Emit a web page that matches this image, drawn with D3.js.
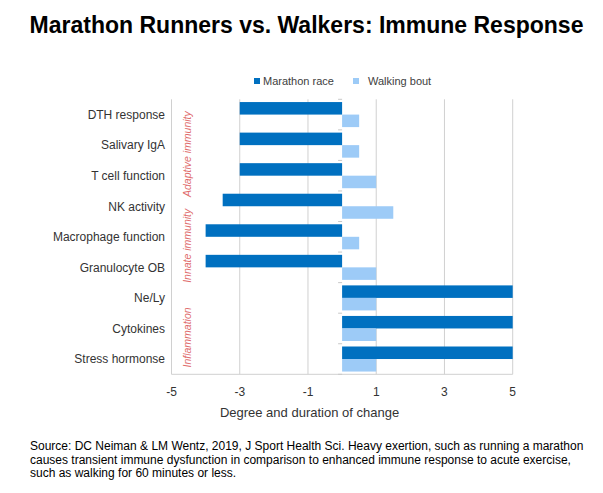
<!DOCTYPE html>
<html>
<head>
  <meta charset="utf-8">
  <title>Marathon Runners vs. Walkers</title>
  <script src="https://d3js.org/d3.v7.min.js"></script>
  <style>
    html, body { margin: 0; background: #fff; overflow: hidden; }
    text { font-family: "Liberation Sans", Arial, sans-serif; }
  </style>
</head>
<body>
  <div id="chart"></div>
  <script>
    // data
    const categories = ['DTH response', 'Salivary IgA', 'T cell function', 'NK activity',
      'Macrophage function', 'Granulocyte OB', 'Ne/Ly', 'Cytokines', 'Stress hormonse'];
    const series = ['Marathon race', 'Walking bout'];
    const marathon = [-3, -3, -3, -3.5, -4, -4, 5, 5, 5];
    const walking = [0.5, 0.5, 1, 1.5, 0.5, 1, 1, 1, 1];
    const xTicks = [-5, -3, -1, 1, 3, 5];
    const groups = [
      { label: 'Adaptive immunity', from: 0, to: 2 },
      { label: 'Innate immunity', from: 3, to: 5 },
      { label: 'Inflammation', from: 6, to: 8 }
    ];
    const footer = [
      'Source: DC Neiman & LM Wentz, 2019, J Sport Health Sci. Heavy exertion, such as running a marathon',
      'causes transient immune dysfunction in comparison to enhanced immune response to acute exercise,',
      'such as walking for 60 minutes or less.'
    ];

    const W = 603, H = 493;
    const colors = { 'Marathon race': '#0070c0', 'Walking bout': '#9dcbf7' };

    const svg = d3.select('#chart').append('svg')
      .attr('width', W).attr('height', H);

    const x = d3.scaleLinear().domain([-5, 5]).range([171.5, 512.7]);
    const y = d3.scaleBand().domain(categories).range([99.3, 374.3]).padding(0);
    const ySub = d3.scaleBand().domain(series).range([0, y.bandwidth()])
      .paddingInner(0).paddingOuter(0.22);

    // title
    svg.append('text')
      .attr('x', 306.5).attr('y', 33)
      .attr('text-anchor', 'middle')
      .attr('font-size', '23px').attr('font-weight', 'bold')
      .attr('fill', '#000')
      .text('Marathon Runners vs. Walkers: Immune Response');

    // legend
    const legendPos = [{ sq: 254, tx: 263 }, { sq: 353, tx: 368 }];
    series.forEach((s, i) => {
      svg.append('rect')
        .attr('x', legendPos[i].sq).attr('y', 78)
        .attr('width', 6).attr('height', 6)
        .attr('fill', colors[s]);
      svg.append('text')
        .attr('x', legendPos[i].tx).attr('y', 85)
        .attr('font-size', '11px').attr('fill', '#404040')
        .text(s);
    });

    // gridlines
    svg.append('g')
      .selectAll('line')
      .data(xTicks)
      .join('line')
      .attr('x1', d => x(d)).attr('x2', d => x(d))
      .attr('y1', y.range()[0]).attr('y2', y.range()[1])
      .attr('stroke', '#d0d0d0').attr('stroke-width', 1);

    // bottom axis line
    svg.append('line')
      .attr('x1', x(-5)).attr('x2', x(5))
      .attr('y1', y.range()[1]).attr('y2', y.range()[1])
      .attr('stroke', '#d0d0d0');

    // bars
    const rows = categories.map((c, i) => ({ cat: c, values: [marathon[i], walking[i]] }));
    const rowG = svg.append('g').selectAll('g')
      .data(rows)
      .join('g')
      .attr('transform', d => `translate(0,${y(d.cat)})`);

    rowG.selectAll('rect')
      .data(d => d.values.map((v, j) => ({ s: series[j], v })))
      .join('rect')
      .attr('x', d => x(Math.min(0, d.v)))
      .attr('width', d => Math.abs(x(d.v) - x(0)))
      .attr('y', d => ySub(d.s))
      .attr('height', ySub.bandwidth())
      .attr('fill', d => colors[d.s]);

    // tick marks on the zero axis at category boundaries
    svg.append('g')
      .selectAll('line')
      .data(categories.map(c => y(c)).concat([y.range()[1]]))
      .join('line')
      .attr('x1', x(0) - 4).attr('x2', x(0))
      .attr('y1', d => d).attr('y2', d => d)
      .attr('stroke', '#c8c8c8');

    // category labels
    svg.append('g')
      .selectAll('text')
      .data(categories)
      .join('text')
      .attr('x', 165)
      .attr('y', d => y(d) + y.bandwidth() / 2 + 4.3)
      .attr('text-anchor', 'end')
      .attr('font-size', '12px').attr('fill', '#333')
      .text(d => d);

    // group labels (rotated)
    svg.append('g')
      .selectAll('text')
      .data(groups)
      .join('text')
      .attr('transform', d => {
        const cy = (y(categories[d.from]) + y(categories[d.to]) + y.bandwidth()) / 2 + 9;
        return `translate(191,${cy}) rotate(-90)`;
      })
      .attr('text-anchor', 'middle')
      .attr('font-size', '10.5px').attr('font-style', 'italic')
      .attr('fill', '#e06c6c')
      .text(d => d.label);

    // x tick labels
    svg.append('g')
      .selectAll('text')
      .data(xTicks)
      .join('text')
      .attr('x', d => x(d))
      .attr('y', 396)
      .attr('text-anchor', 'middle')
      .attr('font-size', '12px').attr('fill', '#333')
      .text(d => d);

    // x axis title
    svg.append('text')
      .attr('x', 309.5).attr('y', 417)
      .attr('text-anchor', 'middle')
      .attr('font-size', '13px').attr('fill', '#333')
      .text('Degree and duration of change');

    // footer note
    svg.append('g')
      .selectAll('text')
      .data(footer)
      .join('text')
      .attr('x', 30)
      .attr('y', (d, i) => 450 + i * 13.7)
      .attr('font-size', '12px').attr('fill', '#000')
      .text(d => d);
  </script>
</body>
</html>
